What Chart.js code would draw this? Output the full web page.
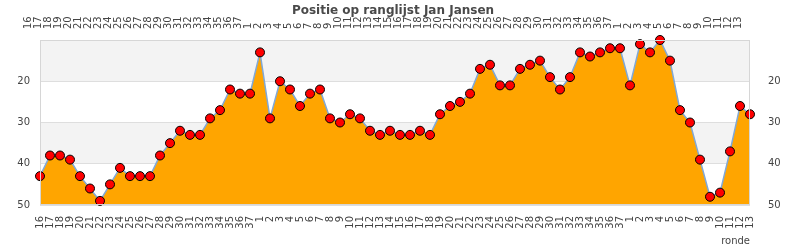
<!DOCTYPE html>
<html>
<head>
<meta charset="utf-8">
<script src="https://cdn.jsdelivr.net/npm/chart.js@4/dist/chart.umd.min.js"></script>
<style>body{margin:0;background:#fff}</style>
</head>
<body>
<canvas id="rangChart" width="790" height="250"></canvas>
<script>
// rondes per seizoen
const rondes1 = ["16","17","18","19","20","21","22","23","24","25","26","27","28","29","30","31","32","33","34","35","36","37"];
const rondes2 = ["1","2","3","4","5","6","7","8","9","10","11","12","13","14","15","16","17","18","19","20","21","22","23","24","25","26","27","28","29","30","31","32","33","34","35","36","37"];
const rondes3 = ["1","2","3","4","5","6","7","8","9","10","11","12","13"];

// positie op de ranglijst
const posities1 = [43,38,38,39,43,46,49,45,41,43,43,43,38,35,32,33,33,29,27,22,23,23];
const posities2 = [13,29,20,22,26,23,22,29,30,28,29,32,33,32,33,33,32,33,28,26,25,23,17,16,21,21,17,16,15,19,22,19,13,14,13,12,12];
const posities3 = [21,11,13,10,15,27,30,39,48,47,37,26,28];

const yMin = 10, yMax = 50, yStap = 10;
const banden = [[10, 20], [30, 40]]; // grijze banden

const labels = rondes1.concat(rondes2, rondes3);
const posities = posities1.concat(posities2, posities3);

const tekst = "#444";
const tickFont = {family: "DejaVu Sans", size: 10};

const achtergrond = {
  id: "achtergrond",
  beforeDraw(chart) {
    const {ctx, chartArea: a, scales: {y}} = chart;
    ctx.save();
    ctx.fillStyle = "#f3f3f3";
    banden.forEach(([lo, hi]) => {
      const y1 = y.getPixelForValue(lo), y2 = y.getPixelForValue(hi);
      ctx.fillRect(a.left, y1, a.right - a.left, y2 - y1);
    });
    ctx.restore();
  },
  afterDraw(chart) {
    const {ctx, chartArea: a} = chart;
    ctx.save();
    ctx.strokeStyle = "#d6d6d6";
    ctx.lineWidth = 1;
    ctx.strokeRect(a.left + 0.5, a.top + 0.5, a.right - a.left - 1, a.bottom - a.top - 1);
    // titel overlapt de bovenste labels, net als in het origineel
    ctx.font = "bold 12px 'DejaVu Sans'";
    ctx.fillStyle = "#4a4a4a";
    ctx.textAlign = "center";
    ctx.textBaseline = "top";
    ctx.fillText("Positie op ranglijst Jan Jansen", 393, 5);
    ctx.restore();
  }
};

const xTicks = {autoSkip: false, minRotation: 90, maxRotation: 90, font: tickFont, color: tekst, padding: 3};
const yTicksOpt = {
  stepSize: yStap, font: tickFont, color: tekst, padding: 10,
  callback: v => v === yMin ? "" : v
};

new Chart("rangChart", {
  type: "line",
  data: {
    labels: labels,
    datasets: [{
      data: posities,
      borderColor: "#7fa8d8",
      borderWidth: 1.5,
      backgroundColor: "#ffa500",
      fill: {value: yMax},
      tension: 0,
      pointRadius: 4.5,
      pointBackgroundColor: "#ff0000",
      pointBorderColor: "#000",
      pointBorderWidth: 1,
      clip: false
    }]
  },
  options: {
    responsive: false,
    animation: false,
    layout: {padding: 0},
    plugins: {legend: {display: false}, tooltip: {enabled: false}},
    scales: {
      x: {
        position: "bottom",
        grid: {display: false}, border: {display: false},
        ticks: xTicks,
        title: {display: true, text: "ronde", align: "end", color: tekst, font: tickFont, padding: {top: 0, bottom: 3}},
        afterFit: s => { s.height = 45; }
      },
      x2: {
        type: "category", position: "top", labels: labels,
        grid: {display: false}, border: {display: false},
        ticks: xTicks,
        afterFit: s => { s.height = 40; }
      },
      y: {
        position: "left", reverse: true, min: yMin, max: yMax,
        grid: {color: "#dedede", drawTicks: false}, border: {display: false},
        ticks: yTicksOpt,
        afterFit: s => { s.width = 40; }
      },
      y2: {
        position: "right", reverse: true, min: yMin, max: yMax,
        grid: {display: false}, border: {display: false},
        ticks: yTicksOpt,
        afterFit: s => { s.width = 40; }
      }
    }
  },
  plugins: [achtergrond]
});
</script>
</body>
</html>
